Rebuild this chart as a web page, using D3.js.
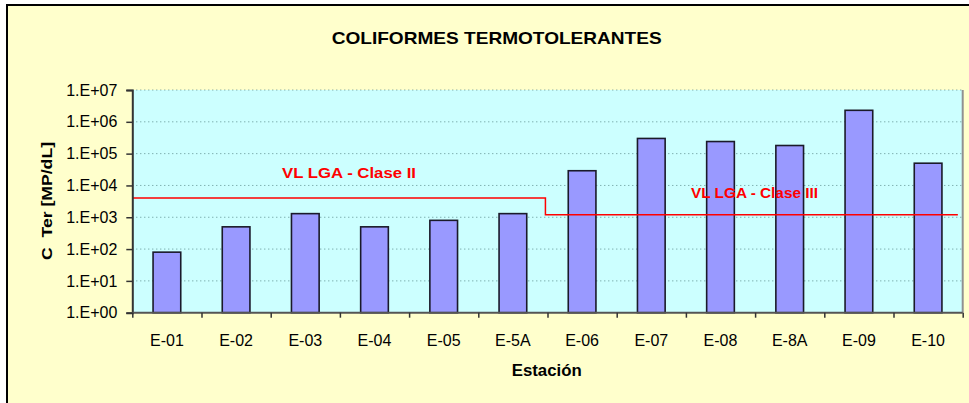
<!DOCTYPE html>
<html>
<head>
<meta charset="utf-8">
<script src="https://cdn.jsdelivr.net/npm/d3@7"></script>
<style>
  html, body { margin: 0; padding: 0; background: #ffffff; }
  svg { display: block; }
  text { font-family: "Liberation Sans", Arial, sans-serif; }
</style>
</head>
<body>
<svg id="chart" width="969" height="403"></svg>
<script>
// ---- data ----
const stations = ["E-01","E-02","E-03","E-04","E-05","E-5A","E-06","E-07","E-08","E-8A","E-09","E-10"];
const cTer = [80, 500, 1300, 500, 800, 1300, 29000, 300000, 240000, 180000, 2300000, 50000];
const yTicks = [1, 10, 100, 1000, 10000, 100000, 1000000, 10000000];
const yTickLabels = ["1.E+00","1.E+01","1.E+02","1.E+03","1.E+04","1.E+05","1.E+06","1.E+07"];
// limit line (x in category units along the axis, y value)
const limitX = [0, 5.97, 5.97, 11.93];
const limitY = [4000, 4000, 1200, 1200];
const limitLabels = ["VL LGA - Clase II", "VL LGA - Clase III"];
const titleText = "COLIFORMES TERMOTOLERANTES";
const xTitle = "Estación";
const yTitle = "C  Ter [MP/dL]";

// ---- layout ----
const svg = d3.select("#chart");
const plot = { left: 132.3, right: 962.7, top: 90, bottom: 312.7 };

// chart area background + frame
svg.append("rect").attr("x", 7).attr("y", 5).attr("width", 990).attr("height", 420)
  .attr("fill", "#FFFFCC").attr("stroke", "#000").attr("stroke-width", 2);

const x = d3.scaleBand().domain(stations).range([plot.left, plot.right]).paddingInner(0.6).paddingOuter(0.3);
const xLin = d3.scaleLinear().domain([0, stations.length]).range([plot.left, plot.right]);
const y = d3.scaleLog().domain([1, 1e7]).range([plot.bottom, plot.top]);

// plot area
svg.append("rect").attr("x", plot.left).attr("y", plot.top)
  .attr("width", plot.right - plot.left).attr("height", plot.bottom - plot.top)
  .attr("fill", "#CCFFFF");

// gridlines
svg.append("g").selectAll("line").data(yTicks.slice(1)).join("line")
  .attr("x1", plot.left).attr("x2", plot.right)
  .attr("y1", d => y(d)).attr("y2", d => y(d))
  .attr("stroke", "#5f8f8f").attr("stroke-width", 1).attr("stroke-dasharray", "1,3");

// right border of plot
svg.append("line").attr("x1", plot.right).attr("x2", plot.right)
  .attr("y1", plot.top).attr("y2", plot.bottom).attr("stroke", "#909090").attr("stroke-width", 2);

// bars
svg.append("g").selectAll("rect").data(stations).join("rect")
  .attr("x", d => x(d)).attr("width", x.bandwidth())
  .attr("y", (d, i) => y(cTer[i]))
  .attr("height", (d, i) => y(1) - y(cTer[i]))
  .attr("fill", "#9999FF").attr("stroke", "#1a1a2a").attr("stroke-width", 1.6);

// limit line
const linePts = limitX.map((v, i) => [xLin(v), y(limitY[i])]);
svg.append("path").attr("d", d3.line()(linePts))
  .attr("fill", "none").attr("stroke", "#FF0000").attr("stroke-width", 1.5);

// limit labels
svg.append("text").attr("x", 282).attr("y", 177.5).text(limitLabels[0])
  .attr("fill", "#FF0000").attr("font-weight", "bold").attr("font-size", 15)
  .attr("textLength", 134).attr("lengthAdjust", "spacingAndGlyphs");
svg.append("text").attr("x", 691).attr("y", 197.5).text(limitLabels[1])
  .attr("fill", "#FF0000").attr("font-weight", "bold").attr("font-size", 15)
  .attr("textLength", 127).attr("lengthAdjust", "spacingAndGlyphs");

// y axis
const yAxis = d3.axisLeft(y).tickValues(yTicks)
  .tickFormat((d, i) => yTickLabels[i]).tickSize(6).tickPadding(9);
const gy = svg.append("g").attr("transform", `translate(${plot.left},0)`).call(yAxis);
gy.select(".domain").attr("stroke", "#333").attr("stroke-width", 2);
gy.selectAll(".tick line").attr("stroke", "#333").attr("stroke-width", 1.5);
gy.selectAll(".tick text").attr("font-size", 16).attr("fill", "#000")
  .attr("font-family", "Liberation Sans, Arial, sans-serif");

// x axis (ticks at category boundaries)
const gx = svg.append("g").attr("transform", `translate(0,${plot.bottom})`);
gx.append("line").attr("x1", plot.left).attr("x2", plot.right).attr("y1", 0).attr("y2", 0)
  .attr("stroke", "#555").attr("stroke-width", 2);
const xb = d3.axisBottom(xLin).tickValues(d3.range(0, stations.length + 1)).tickFormat("").tickSize(5).tickSizeOuter(0);
const gxb = svg.append("g").attr("transform", `translate(0,${plot.bottom})`).call(xb);
gxb.select(".domain").remove();
gxb.selectAll(".tick line").attr("stroke", "#333").attr("stroke-width", 1.5);
svg.append("g").selectAll("text").data(stations).join("text")
  .attr("x", d => x(d) + x.bandwidth() / 2).attr("y", 346)
  .attr("text-anchor", "middle").attr("font-size", 16).attr("fill", "#000")
  .text(d => d);

// titles
svg.append("text").attr("x", 496.7).attr("y", 44.3).attr("text-anchor", "middle")
  .attr("font-weight", "bold").attr("font-size", 17).text(titleText)
  .attr("textLength", 330).attr("lengthAdjust", "spacingAndGlyphs");
svg.append("text").attr("x", 546.7).attr("y", 376).attr("text-anchor", "middle")
  .attr("font-weight", "bold").attr("font-size", 17).text(xTitle)
  .attr("textLength", 70).attr("lengthAdjust", "spacingAndGlyphs");
svg.append("text").attr("transform", "translate(52,201) rotate(-90)")
  .attr("text-anchor", "middle").attr("font-weight", "bold").attr("font-size", 15.5)
  .attr("xml:space", "preserve").style("white-space", "pre").text(yTitle)
  .attr("textLength", 118).attr("lengthAdjust", "spacingAndGlyphs");
</script>
</body>
</html>
